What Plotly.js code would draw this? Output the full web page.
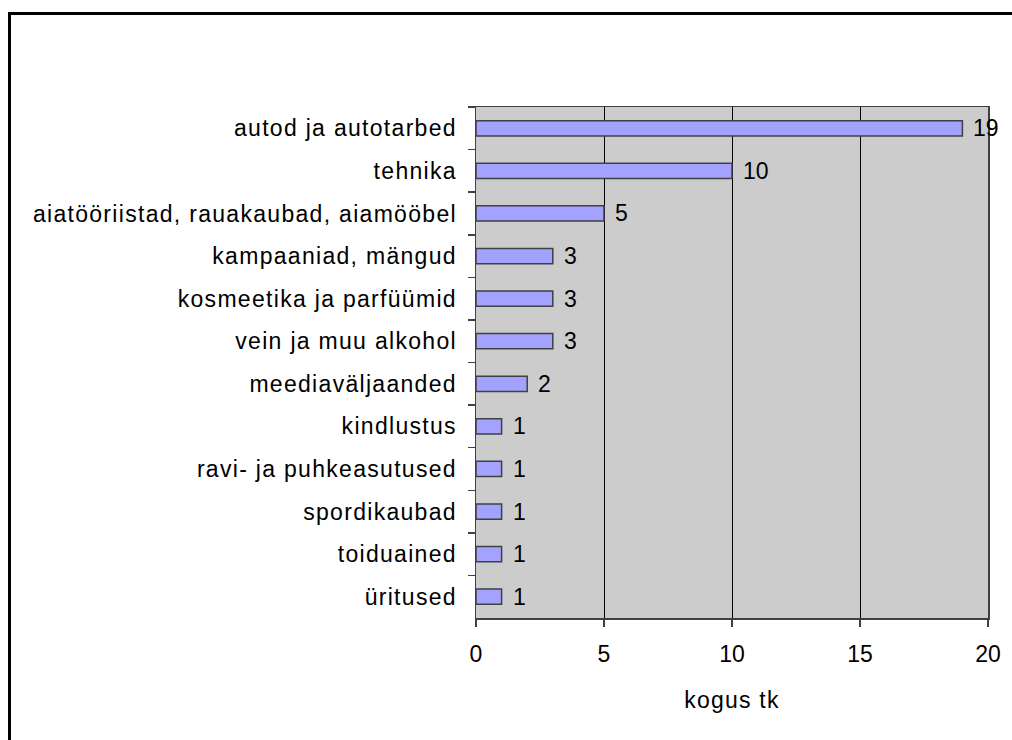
<!DOCTYPE html>
<html>
<head>
<meta charset="utf-8">
<script src="https://cdn.plot.ly/plotly-3.0.1.min.js"></script>
<style>
html,body{margin:0;padding:0;background:#fff;overflow:hidden;}
#frame{position:absolute;left:8px;top:12px;width:1030px;height:760px;border:3px solid #000;box-sizing:border-box;pointer-events:none;z-index:5;}
#chart{position:absolute;left:0;top:0;width:1012px;height:740px;}
.ytick text{letter-spacing:1.3px;}
.g-xtitle text{letter-spacing:1.2px;}
</style>
</head>
<body>
<div id="chart"></div>
<div id="frame"></div>
<script>
const categories = ["autod ja autotarbed","tehnika","aiatööriistad, rauakaubad, aiamööbel","kampaaniad, mängud","kosmeetika ja parfüümid","vein ja muu alkohol","meediaväljaanded","kindlustus","ravi- ja puhkeasutused","spordikaubad","toiduained","üritused"];
const values = [19,10,5,3,3,3,2,1,1,1,1,1];
const xTicks = [0,5,10,15,20];
const xTitle = "kogus tk";

const font = {family:"Liberation Sans, Arial, sans-serif", size:23, color:"#000"};

const labels = values.map((v, i) => ({
  x: v, y: categories[i], xref:"x", yref:"y", text: String(v),
  showarrow:false, xanchor:"left", yanchor:"middle", xshift:9, font: font
}));

Plotly.newPlot("chart", [{
  type:"bar", orientation:"h",
  x: values, y: categories,
  marker:{color:"#a3a3ff", line:{color:"#404040", width:1.5}},
  hoverinfo:"none", width:0.36
}], {
  width:1012, height:740,
  margin:{l:476, r:24, t:107, b:122},
  paper_bgcolor:"#fff", plot_bgcolor:"#cccccc",
  font: font,
  showlegend:false,
  bargap:0.64,
  annotations: labels,
  xaxis:{range:[0,20], tickvals:xTicks, ticktext:xTicks.map(String), showgrid:true, gridcolor:"#000", gridwidth:1,
    zeroline:false, showline:true, linecolor:"#404040", linewidth:1.5, mirror:true,
    ticks:"outside", ticklen:7, tickcolor:"#404040", tickwidth:1.5, ticklabelstandoff:8,
    title:{text:xTitle, font:font, standoff:26}, tickfont:font},
  yaxis:{type:"category", autorange:"reversed", showgrid:false, zeroline:false,
    showline:true, linecolor:"#404040", linewidth:1.5, mirror:true,
    ticks:"outside", ticklen:7, tickcolor:"#404040", tickwidth:1.5, tickson:"boundaries",
    tickfont:font, ticklabelstandoff:13}
}, {staticPlot:true});
</script>
</body>
</html>
